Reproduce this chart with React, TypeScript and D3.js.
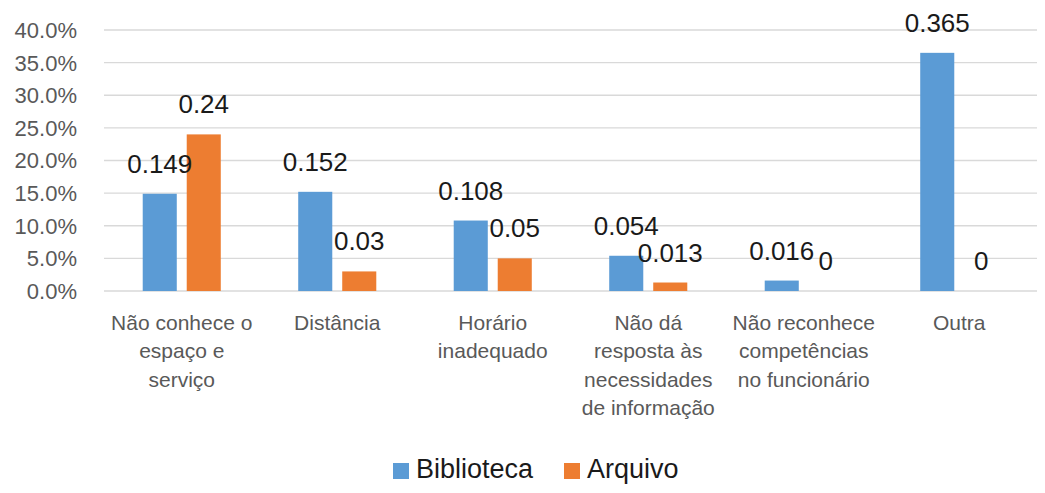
import React from "react";
import * as d3 from "d3";

const categories: string[][] = [
  ["Não conhece o", "espaço e", "serviço"],
  ["Distância"],
  ["Horário", "inadequado"],
  ["Não dá", "resposta às", "necessidades", "de informação"],
  ["Não reconhece", "competências", "no funcionário"],
  ["Outra"],
];
const biblioteca = [0.149, 0.152, 0.108, 0.054, 0.016, 0.365];
const arquivo = [0.24, 0.03, 0.05, 0.013, 0, 0];
const yTicks = [0, 0.05, 0.1, 0.15, 0.2, 0.25, 0.3, 0.35, 0.4];
const seriesNames = ["Biblioteca", "Arquivo"];
const colors = ["#5B9BD5", "#ED7D31"];

const W = 1045;
const H = 493;
const FONT = "'Liberation Sans', Arial, sans-serif";

export default function App() {
  const left = 104;
  const right = 1037;
  const top = 30;
  const bottom = 291;
  const x = d3
    .scaleBand<number>()
    .domain(d3.range(categories.length))
    .range([left, right])
    .padding(0);
  const y = d3.scaleLinear().domain([0, 0.4]).range([bottom, top]);
  const band = x.bandwidth();
  const barW = band * 0.219;
  const gap = band * 0.064;
  const series = [biblioteca, arquivo];
  const fmtTick = d3.format(".1%");
  const barX = (si: number, i: number) => {
    const cx = (x(i) as number) + band / 2;
    return si === 0 ? cx - gap / 2 - barW : cx + gap / 2;
  };

  return (
    <svg
      width={W}
      height={H}
      style={{ position: "absolute", left: 0, top: 0, background: "#fff" }}
      fontFamily={FONT}
    >
      {yTicks.map((t) => (
        <g key={t}>
          <line x1={left} x2={right} y1={y(t)} y2={y(t)} stroke="#D9D9D9" strokeWidth={1.3} />
          <text
            x={77}
            y={y(t)}
            dy="0.36em"
            textAnchor="end"
            fontSize={22}
            fill="#595959"
          >
            {fmtTick(t)}
          </text>
        </g>
      ))}
      {series.map((vals, si) =>
        vals.map((v, i) => (
          <rect
            key={`b${si}-${i}`}
            x={barX(si, i)}
            y={y(v)}
            width={barW}
            height={y(0) - y(v)}
            fill={colors[si]}
          />
        ))
      )}
      {series.map((vals, si) =>
        vals.map((v, i) => (
          <text
            key={`l${si}-${i}`}
            x={barX(si, i) + barW / 2}
            y={y(v) - 21}
            textAnchor="middle"
            fontSize={26}
            fill="#1a1a1a"
          >
            {String(v)}
          </text>
        ))
      )}
      {categories.map((lines, i) => {
        const cx = (x(i) as number) + band / 2;
        return (
          <text key={i} textAnchor="middle" fontSize={21} fill="#595959">
            {lines.map((l, j) => (
              <tspan key={j} x={cx} y={330 + j * 28.3}>
                {l}
              </tspan>
            ))}
          </text>
        );
      })}
      <g>
        <rect x={393} y={463} width={16} height={16} fill={colors[0]} />
        <text x={416} y={478} fontSize={27} fill="#1a1a1a">
          {seriesNames[0]}
        </text>
        <rect x={564} y={463} width={16} height={16} fill={colors[1]} />
        <text x={587} y={478} fontSize={27} fill="#1a1a1a">
          {seriesNames[1]}
        </text>
      </g>
    </svg>
  );
}
